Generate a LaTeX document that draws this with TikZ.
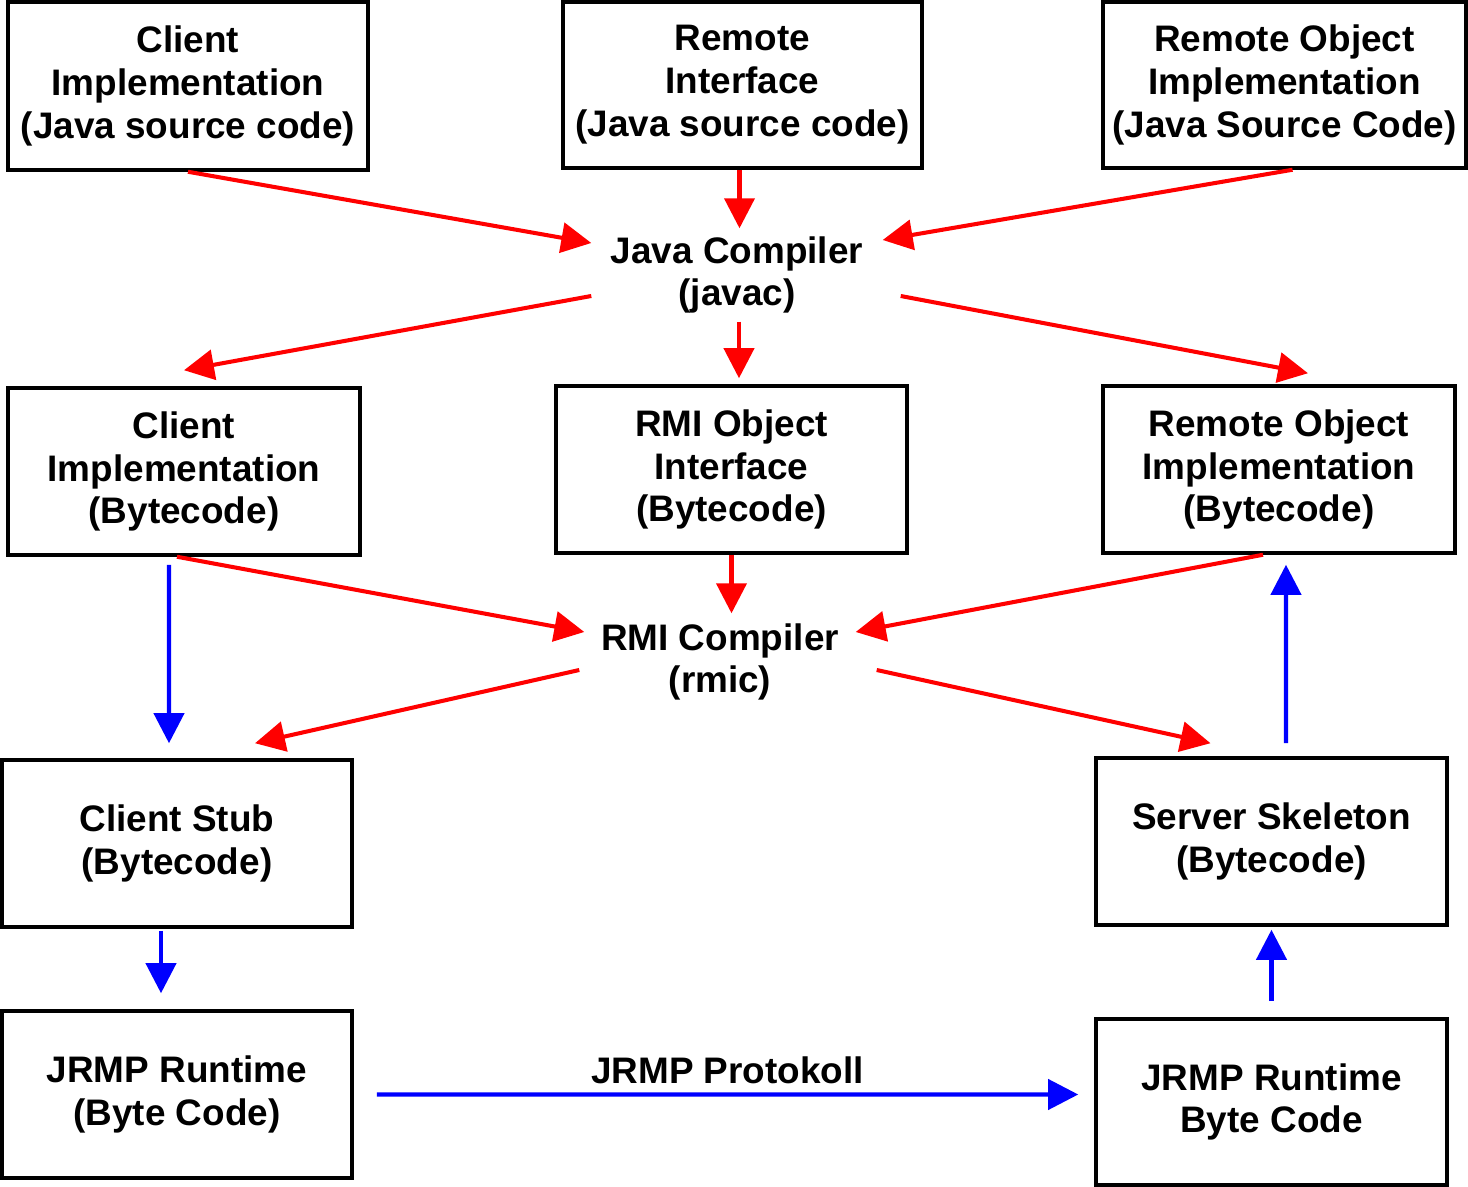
\documentclass[tikz,border=0pt]{standalone}
\usepackage{fontspec}
\setsansfont{Liberation Sans}
\usetikzlibrary{positioning, calc, arrows.meta}

\begin{document}
\begin{tikzpicture}[
    every node/.style={font=\fontsize{10.5}{12.2}\selectfont\sffamily\bfseries},
    filebox/.style={
        rectangle, draw=black, line width=1pt,
        minimum width=3.5cm, minimum height=1.67cm,
        inner sep=2pt, align=center
    },
    toolnode/.style={align=center, inner sep=0pt},
    compflow/.style={
        draw={rgb,255:red,255;green,0;blue,0}, line width=1.15pt,
        -{Triangle[length=3mm, width=3mm]}
    },
    runflow/.style={
        draw={rgb,255:red,0;green,0;blue,255}, line width=1.15pt,
        -{Triangle[length=3mm, width=3mm]}
    }
]
\useasboundingbox (0,0) rectangle (14.68,-11.87);

%% ── Source files (top row) ─────────────────────────────────────────
\node[filebox, minimum width=3.60cm, minimum height=1.68cm]
    (clientsrc) at (1.88, -0.86)
    {Client\\Implementation\\(Java source code)};
\node[filebox, minimum width=3.59cm, minimum height=1.66cm]
    (ifacesrc) at (7.425, -0.85)
    {Remote\\Interface\\(Java source code)};
\node[filebox, minimum width=3.63cm, minimum height=1.66cm]
    (remotesrc) at (12.845, -0.85)
    {Remote Object\\Implementation\\(Java Source Code)};

%% Java compiler
\node[toolnode, minimum width=2.9cm, minimum height=0.92cm]
    (javac) at (7.37, -2.75) {Java Compiler\\(javac)};

%% ── Bytecode files (middle row) ────────────────────────────────────
\node[filebox, minimum width=3.52cm]
    (clientbc) at (1.84, -4.715)
    {Client\\Implementation\\(Bytecode)};
\node[filebox, minimum width=3.51cm]
    (ifacebc) at (7.315, -4.695)
    {RMI Object\\Interface\\(Bytecode)};
\node[filebox, minimum width=3.52cm]
    (remotebc) at (12.79, -4.695)
    {Remote Object\\Implementation\\(Bytecode)};

%% RMI compiler
\node[toolnode, minimum width=2.7cm, minimum height=0.96cm]
    (rmic) at (7.20, -6.62) {RMI Compiler\\(rmic)};

%% ── Stub / skeleton and runtime ────────────────────────────────────
\node[filebox] (stub) at (1.77, -8.435) {Client Stub\\(Bytecode)};
\node[filebox, minimum width=3.51cm]
    (skeleton) at (12.715, -8.415) {Server Skeleton\\(Bytecode)};
\node[filebox] (jrmpclient) at (1.77, -10.945) {JRMP Runtime\\(Byte Code)};
\node[filebox, minimum width=3.51cm, minimum height=1.66cm]
    (jrmpserver) at (12.715, -11.02) {JRMP Runtime\\Byte Code};

%% ── Compile flow (red) ─────────────────────────────────────────────
\draw[compflow] (clientsrc.south) -- ([yshift=3.2mm]javac.west);
\draw[compflow] ([xshift=-0.3mm]ifacesrc.south)
    -- ([xshift=-0.3mm]ifacesrc.south |- javac.north);
\draw[compflow] ([xshift=0.8mm]remotesrc.south) -- ([yshift=3.5mm]javac.east);

\draw[compflow] ([yshift=-2.1mm]javac.west) -- ([yshift=1.6mm]clientbc.north);
\draw[compflow] ([xshift=0.2mm]javac.south)
    -- ([xshift=0.2mm, yshift=0.6mm]javac.south |- ifacebc.north);
\draw[compflow] ([xshift=1.8mm, yshift=-2.1mm]javac.east)
    -- ([xshift=2.9mm, yshift=1.1mm]remotebc.north);

\draw[compflow] ([xshift=-0.7mm]clientbc.south) -- ([yshift=3mm]rmic.west);
\draw[compflow] (ifacebc.south) -- (ifacebc.south |- rmic.north);
\draw[compflow] ([xshift=-1.6mm]remotebc.south) -- ([yshift=3mm]rmic.east);

\draw[compflow] ([xshift=-0.5mm, yshift=-0.8mm]rmic.west)
    -- ([xshift=7.8mm, yshift=1.5mm]stub.north);
\draw[compflow] ([xshift=2.1mm, yshift=-0.8mm]rmic.east)
    -- ([xshift=-6.1mm, yshift=1.3mm]skeleton.north);

%% ── Runtime flow (blue) ────────────────────────────────────────────
\draw[runflow] ([xshift=-1.5mm, yshift=-0.8mm]clientbc.south)
    -- ([xshift=-0.8mm, yshift=1.5mm]stub.north);
\draw[runflow] ([xshift=-1.6mm, yshift=-0.2mm]stub.south)
    -- ([xshift=-1.6mm, yshift=1.6mm]jrmpclient.north);
\draw[runflow] ([xshift=1.45mm, yshift=1.3mm]skeleton.north)
    -- ([xshift=0.7mm, yshift=-1mm]remotebc.south);
\draw[runflow] ([yshift=1.6mm]jrmpserver.north)
    -- ([yshift=-0.3mm]skeleton.south);

\draw[runflow] ([xshift=2.3mm]jrmpclient.east)
    -- node[above=-0.3mm] (protocol) {JRMP Protokoll}
    ([xshift=-1.6mm, yshift=0.75mm]jrmpserver.west);

\end{tikzpicture}
\end{document}
